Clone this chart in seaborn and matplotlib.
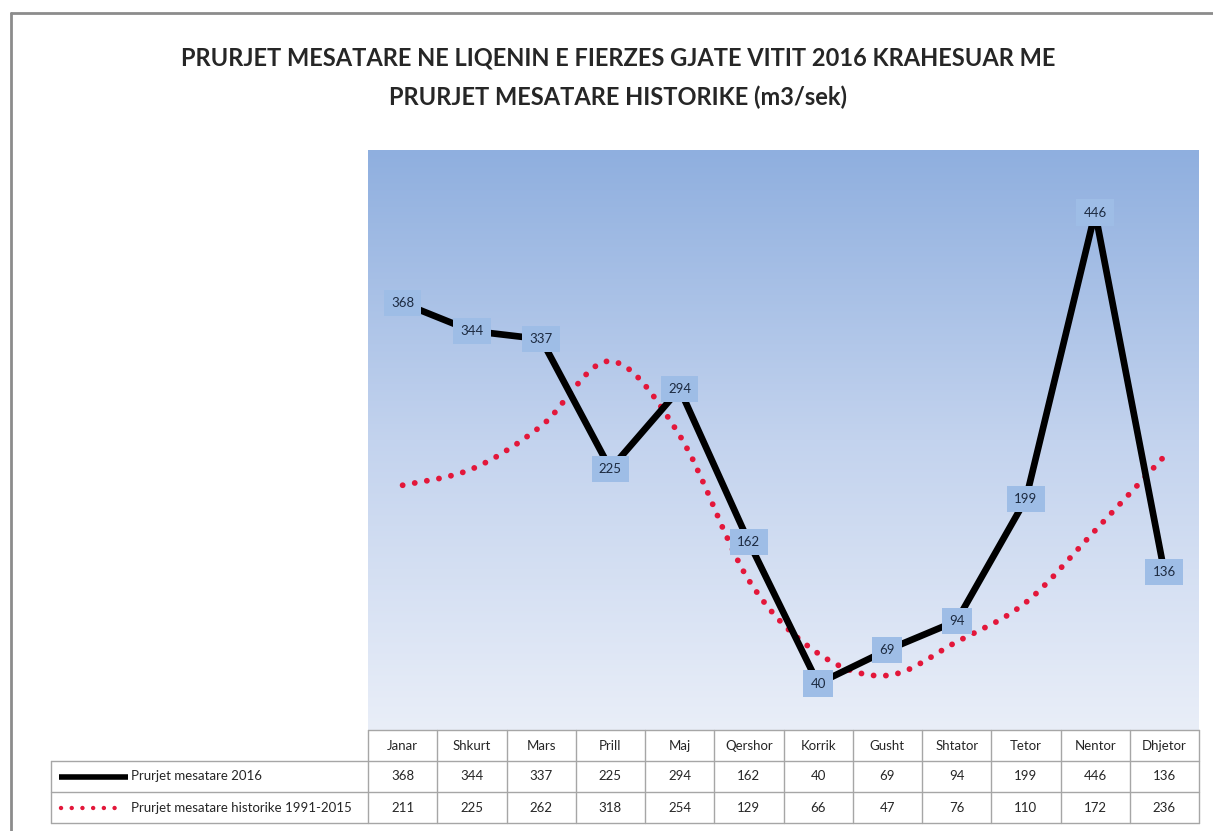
import numpy as np
import matplotlib
matplotlib.use("Agg")
import matplotlib.pyplot as plt
import seaborn as sns
import pandas as pd
from matplotlib.path import Path
from matplotlib.patches import PathPatch
from matplotlib.colors import LinearSegmentedColormap

# ---------------- data ----------------
months = ["Janar", "Shkurt", "Mars", "Prill", "Maj", "Qershor", "Korrik",
          "Gusht", "Shtator", "Tetor", "Nentor", "Dhjetor"]
flow_2016 = [368, 344, 337, 225, 294, 162, 40, 69, 94, 199, 446, 136]
flow_hist = [211, 225, 262, 318, 254, 129, 66, 47, 76, 110, 172, 236]
series_labels = ["Prurjet mesatare 2016", "Prurjet mesatare historike 1991-2015"]
title_lines = ["PRURJET MESATARE NE LIQENIN E FIERZES GJATE VITIT 2016 KRAHESUAR ME",
               "PRURJET MESATARE HISTORIKE (m3/sek)"]

sns.set_theme(style="white")
FONT = ["Lato", "DejaVu Sans"]
plt.rcParams["font.family"] = FONT

W, H = 1213, 831
fig = plt.figure(figsize=(W / 100, H / 100), dpi=100)
fig.patch.set_facecolor("white")


def px_rect(l, t, r, b):
    return [l / W, 1 - b / H, (r - l) / W, (b - t) / H]


L, R, T, B = 368, 1199, 150, 730
ax = fig.add_axes(px_rect(L, T, R, B))
df = pd.DataFrame({"month": months, "idx": np.arange(len(months)),
                   "v2016": flow_2016, "vhist": flow_hist})

# gradient background
cmap = LinearSegmentedColormap.from_list("bg", ["#e9eef8", "#c3d3ee", "#8fafdf"])
ax.imshow(np.linspace(0, 1, 256).reshape(-1, 1), extent=[-0.5, 11.5, 0, 500],
          origin="lower", aspect="auto", cmap=cmap, zorder=0)

# historical series: smoothed dotted red curve (Bezier through the data points)
pts = np.column_stack([df["idx"].values.astype(float), df["vhist"].values.astype(float)])
n = len(pts)
verts = [pts[0]]
codes = [Path.MOVETO]
for i in range(n - 1):
    p0 = pts[i - 1] if i > 0 else pts[i]
    p1 = pts[i]
    p2 = pts[i + 1]
    p3 = pts[i + 2] if i + 2 < n else pts[i + 1]
    c1 = p1 + (p2 - p0) / 6.0
    c2 = p2 - (p3 - p1) / 6.0
    verts += [c1, c2, p2]
    codes += [Path.CURVE4] * 3
RED = "#e3173a"
patch = PathPatch(Path(verts, codes), fill=False, edgecolor=RED, lw=4.2,
                  linestyle=(0, (0.01, 2.1)), capstyle="round", zorder=2)
ax.add_patch(patch)

# 2016 series
sns.lineplot(data=df, x="idx", y="v2016", color="black", lw=4.8, ax=ax,
             zorder=3, legend=False)
for i, v in enumerate(flow_2016):
    ax.text(i, v, str(v), ha="center", va="center", fontsize=9.5, color="#1c2a40",
            bbox=dict(boxstyle="square,pad=0.55", fc="#9ebde6", ec="none"), zorder=5)

ax.set_xlim(-0.5, 11.5)
ax.set_ylim(0, 500)
ax.set_xticks([])
ax.set_yticks([])
ax.set_xlabel("")
ax.set_ylabel("")
for s in ax.spines.values():
    s.set_visible(False)

# ---------------- overlay: border, title, data table ----------------
ov = fig.add_axes([0, 0, 1, 1], facecolor="none")
ov.set_xlim(0, W)
ov.set_ylim(H, 0)
ov.axis("off")

ov.plot([11, 11], [H, 13], color="#8c8c8c", lw=2)
ov.plot([11, W], [13, 13], color="#8c8c8c", lw=2)

ov.text(618, 58, title_lines[0], ha="center", va="center", fontsize=17,
        fontweight="bold", color="#262626")
ov.text(618, 97, title_lines[1], ha="center", va="center", fontsize=17,
        fontweight="bold", color="#262626")

GRID = "#a6a6a6"
cw = (R - L) / len(months)
edges = [L + j * cw for j in range(len(months) + 1)]
r0, r1, r2, r3 = 730, 761, 792, 823
TL = 51
ov.plot([L, R], [r0, r0], color=GRID, lw=1)
for yy in (r1, r2, r3):
    ov.plot([TL, R], [yy, yy], color=GRID, lw=1)
for xx in edges:
    ov.plot([xx, xx], [r0, r3], color=GRID, lw=1)
ov.plot([TL, TL], [r1, r3], color=GRID, lw=1)

TXT = "#262626"
FS = 9.5
for j, m in enumerate(months):
    cx = edges[j] + cw / 2
    ov.text(cx, (r0 + r1) / 2, m, ha="center", va="center", fontsize=FS, color=TXT)
    ov.text(cx, (r1 + r2) / 2, str(flow_2016[j]), ha="center", va="center", fontsize=FS, color=TXT)
    ov.text(cx, (r2 + r3) / 2, str(flow_hist[j]), ha="center", va="center", fontsize=FS, color=TXT)

ov.plot([59, 128], [(r1 + r2) / 2] * 2, color="black", lw=4, solid_capstyle="butt")
ov.plot([61, 122], [(r2 + r3) / 2] * 2, color=RED, lw=3.2, linestyle=(0, (0.01, 2.4)),
        dash_capstyle="round")
ov.text(131, (r1 + r2) / 2, series_labels[0], ha="left", va="center", fontsize=FS, color=TXT)
ov.text(131, (r2 + r3) / 2, series_labels[1], ha="left", va="center", fontsize=FS, color=TXT)

fig.savefig("out.png", dpi=100, facecolor="white")
